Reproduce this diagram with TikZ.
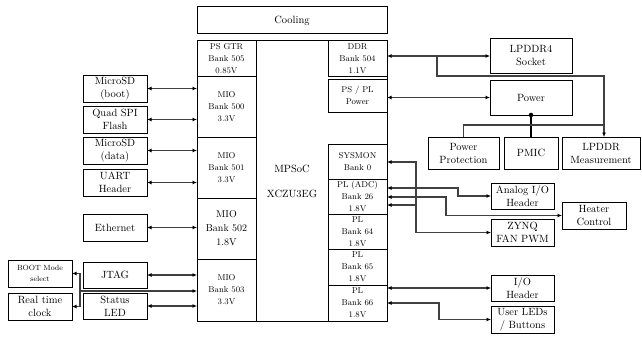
\documentclass[tikz,border=0pt]{standalone}
\usetikzlibrary{arrows.meta}
\newcommand\drawbox[7]{\node[#2, minimum width={(#5-#3)*1pt}, minimum height={(#6-#4)*1pt}] (#1) at ({(#3+#5)/2},{(#4+#6)/2}) {#7};}
\begin{document}
\begin{tikzpicture}[x=1pt,y=-1pt,
  box/.style={draw, line width=1pt, inner sep=1pt, outer sep=0pt, align=center, font=\fontsize{10.5}{13}\selectfont},
  small/.style={box, font=\fontsize{8.5}{12}\selectfont},
  mid/.style={box, font=\fontsize{10}{14}\selectfont},
  tiny/.style={box, font=\fontsize{7.5}{11}\selectfont},
  conn/.style={draw=black!75, line width=1.1pt},
  tipp/.tip={Latex[length=4.5pt,width=4pt,color=black]},
  dbl/.style={conn, tipp-tipp},
  arr/.style={conn, -tipp}]
\useasboundingbox (0,0) rectangle (642,337);
% MPSoC
\drawbox{cool}{box}{197}{7}{387}{34}{Cooling}
\drawbox{soc}{box}{197}{41}{387}{321}{MPSoC\\[12pt]XCZU3EG}
\drawbox{b505}{small}{197}{41}{256}{76}{PS GTR\\Bank 505\\0.85V}
\drawbox{b500}{small}{197}{76}{256}{137}{MIO\\Bank 500\\3.3V}
\drawbox{b501}{small}{197}{137}{256}{198}{MIO\\Bank 501\\3.3V}
\drawbox{b502}{mid}{197}{198}{256}{259}{MIO\\Bank 502\\1.8V}
\drawbox{b503}{small}{197}{259}{256}{321}{MIO\\Bank 503\\3.3V}
\drawbox{ddr}{small}{328}{41}{387}{76}{DDR\\Bank 504\\1.1V}
\drawbox{pspl}{small}{328}{79}{387}{112}{PS / PL\\Power}
\drawbox{sysmon}{small}{328}{144}{387}{179}{SYSMON\\Bank 0}
\drawbox{pladc}{small}{328}{179}{387}{214}{PL (ADC)\\Bank 26\\1.8V}
\drawbox{pl64}{small}{328}{214}{387}{249}{PL\\Bank 64\\1.8V}
\drawbox{pl65}{small}{328}{249}{387}{285}{PL\\Bank 65\\1.8V}
\drawbox{pl66}{small}{328}{285}{387}{321}{PL\\Bank 66\\1.8V}
% left peripherals
\drawbox{sdboot}{box}{83}{75}{147}{102}{MicroSD\\(boot)}
\drawbox{qspi}{box}{83}{106}{147}{133}{Quad SPI\\Flash}
\drawbox{sddata}{box}{83}{137}{147}{164}{MicroSD\\(data)}
\drawbox{uart}{box}{83}{169}{147}{196}{UART\\Header}
\drawbox{eth}{box}{83}{214}{147}{241}{Ethernet}
\drawbox{jtag}{box}{83}{262}{147}{288}{JTAG}
\drawbox{sled}{box}{83}{293}{147}{319}{Status\\LED}
\drawbox{bootm}{tiny}{8}{260}{72}{287}{BOOT Mode\\select}
\drawbox{rtc}{box}{8}{293}{72}{320}{Real time\\clock}
% right peripherals
\drawbox{lpddr4}{box}{490}{39}{572}{73}{LPDDR4\\Socket}
\drawbox{power}{box}{490}{80}{572}{115}{Power}
\drawbox{pprot}{box}{428}{137}{499}{169}{Power\\Protection}
\drawbox{pmic}{box}{504}{137}{558}{169}{PMIC}
\drawbox{lpddrm}{box}{562}{137}{640}{169}{LPDDR\\Measurement}
\drawbox{analog}{box}{491}{183}{554}{209}{Analog I/O\\Header}
\drawbox{heater}{box}{562}{202}{626}{229}{Heater\\Control}
\drawbox{zynq}{box}{491}{219}{554}{246}{ZYNQ\\FAN PWM}
\drawbox{ioh}{box}{491}{275}{554}{301}{I/O\\Header}
\drawbox{leds}{box}{491}{306}{554}{333}{User LEDs\\/ Buttons}
% left connectors
\draw[dbl] (sdboot.east) -- (sdboot.east -| b500.west);
\draw[dbl] (qspi.east) -- (qspi.east -| b500.west);
\draw[dbl] (sddata.east) -- (sddata.east -| b501.west);
\draw[dbl] (uart.east) -- (uart.east -| b501.west);
\draw[dbl] (eth.east) -- (eth.east -| b502.west);
\draw[dbl] (jtag.east) -- (jtag.east -| b503.west);
\draw[dbl] (sled.east) -- (sled.east -| b503.west);
\coordinate (jx) at (80,291);
\draw[arr] (jx) -- (jx -| b503.west);
\draw[dbl] (bootm.east) -- (bootm.east -| jx) -- (rtc.east -| jx) -- (rtc.east);
% right connectors
\coordinate (br) at (437,76);
\coordinate (mx) at (604,125);
\draw[dbl] (ddr.east |- lpddr4.west) -- (lpddr4.west);
\draw[arr] (br |- lpddr4.west) -- (br) -| (mx |- lpddrm.north);
\draw[dbl] (power.west -| pspl.east) -- (power.west);
\node[circle, fill, inner sep=1.6pt] (dot) at (power.south) {};
\draw[conn, draw=black, line width=1.3pt] (dot) -- (pmic.north);
\draw[conn] (pprot.north) |- (mx);
\coordinate (vx) at (416,162);
\draw[dbl] (sysmon.east |- vx) -- (vx) |- (zynq.west);
\coordinate (a1) at (458,188);
\coordinate (a2) at (446,197);
\coordinate (a3) at (416,205);
\draw[dbl] (a1 -| pladc.east) -- (a1) |- (analog.west);
\draw[dbl] (a2 -| pladc.east) -- (a2) |- (heater.west);
\draw[arr] (a3) -- (a3 -| pladc.east);
\draw[dbl] (ioh.west -| pl66.east) -- (ioh.west);
\coordinate (a4) at (439,303);
\draw[dbl] (a4 -| pl66.east) -- (a4) |- (leds.west);
\end{tikzpicture}
\end{document}
